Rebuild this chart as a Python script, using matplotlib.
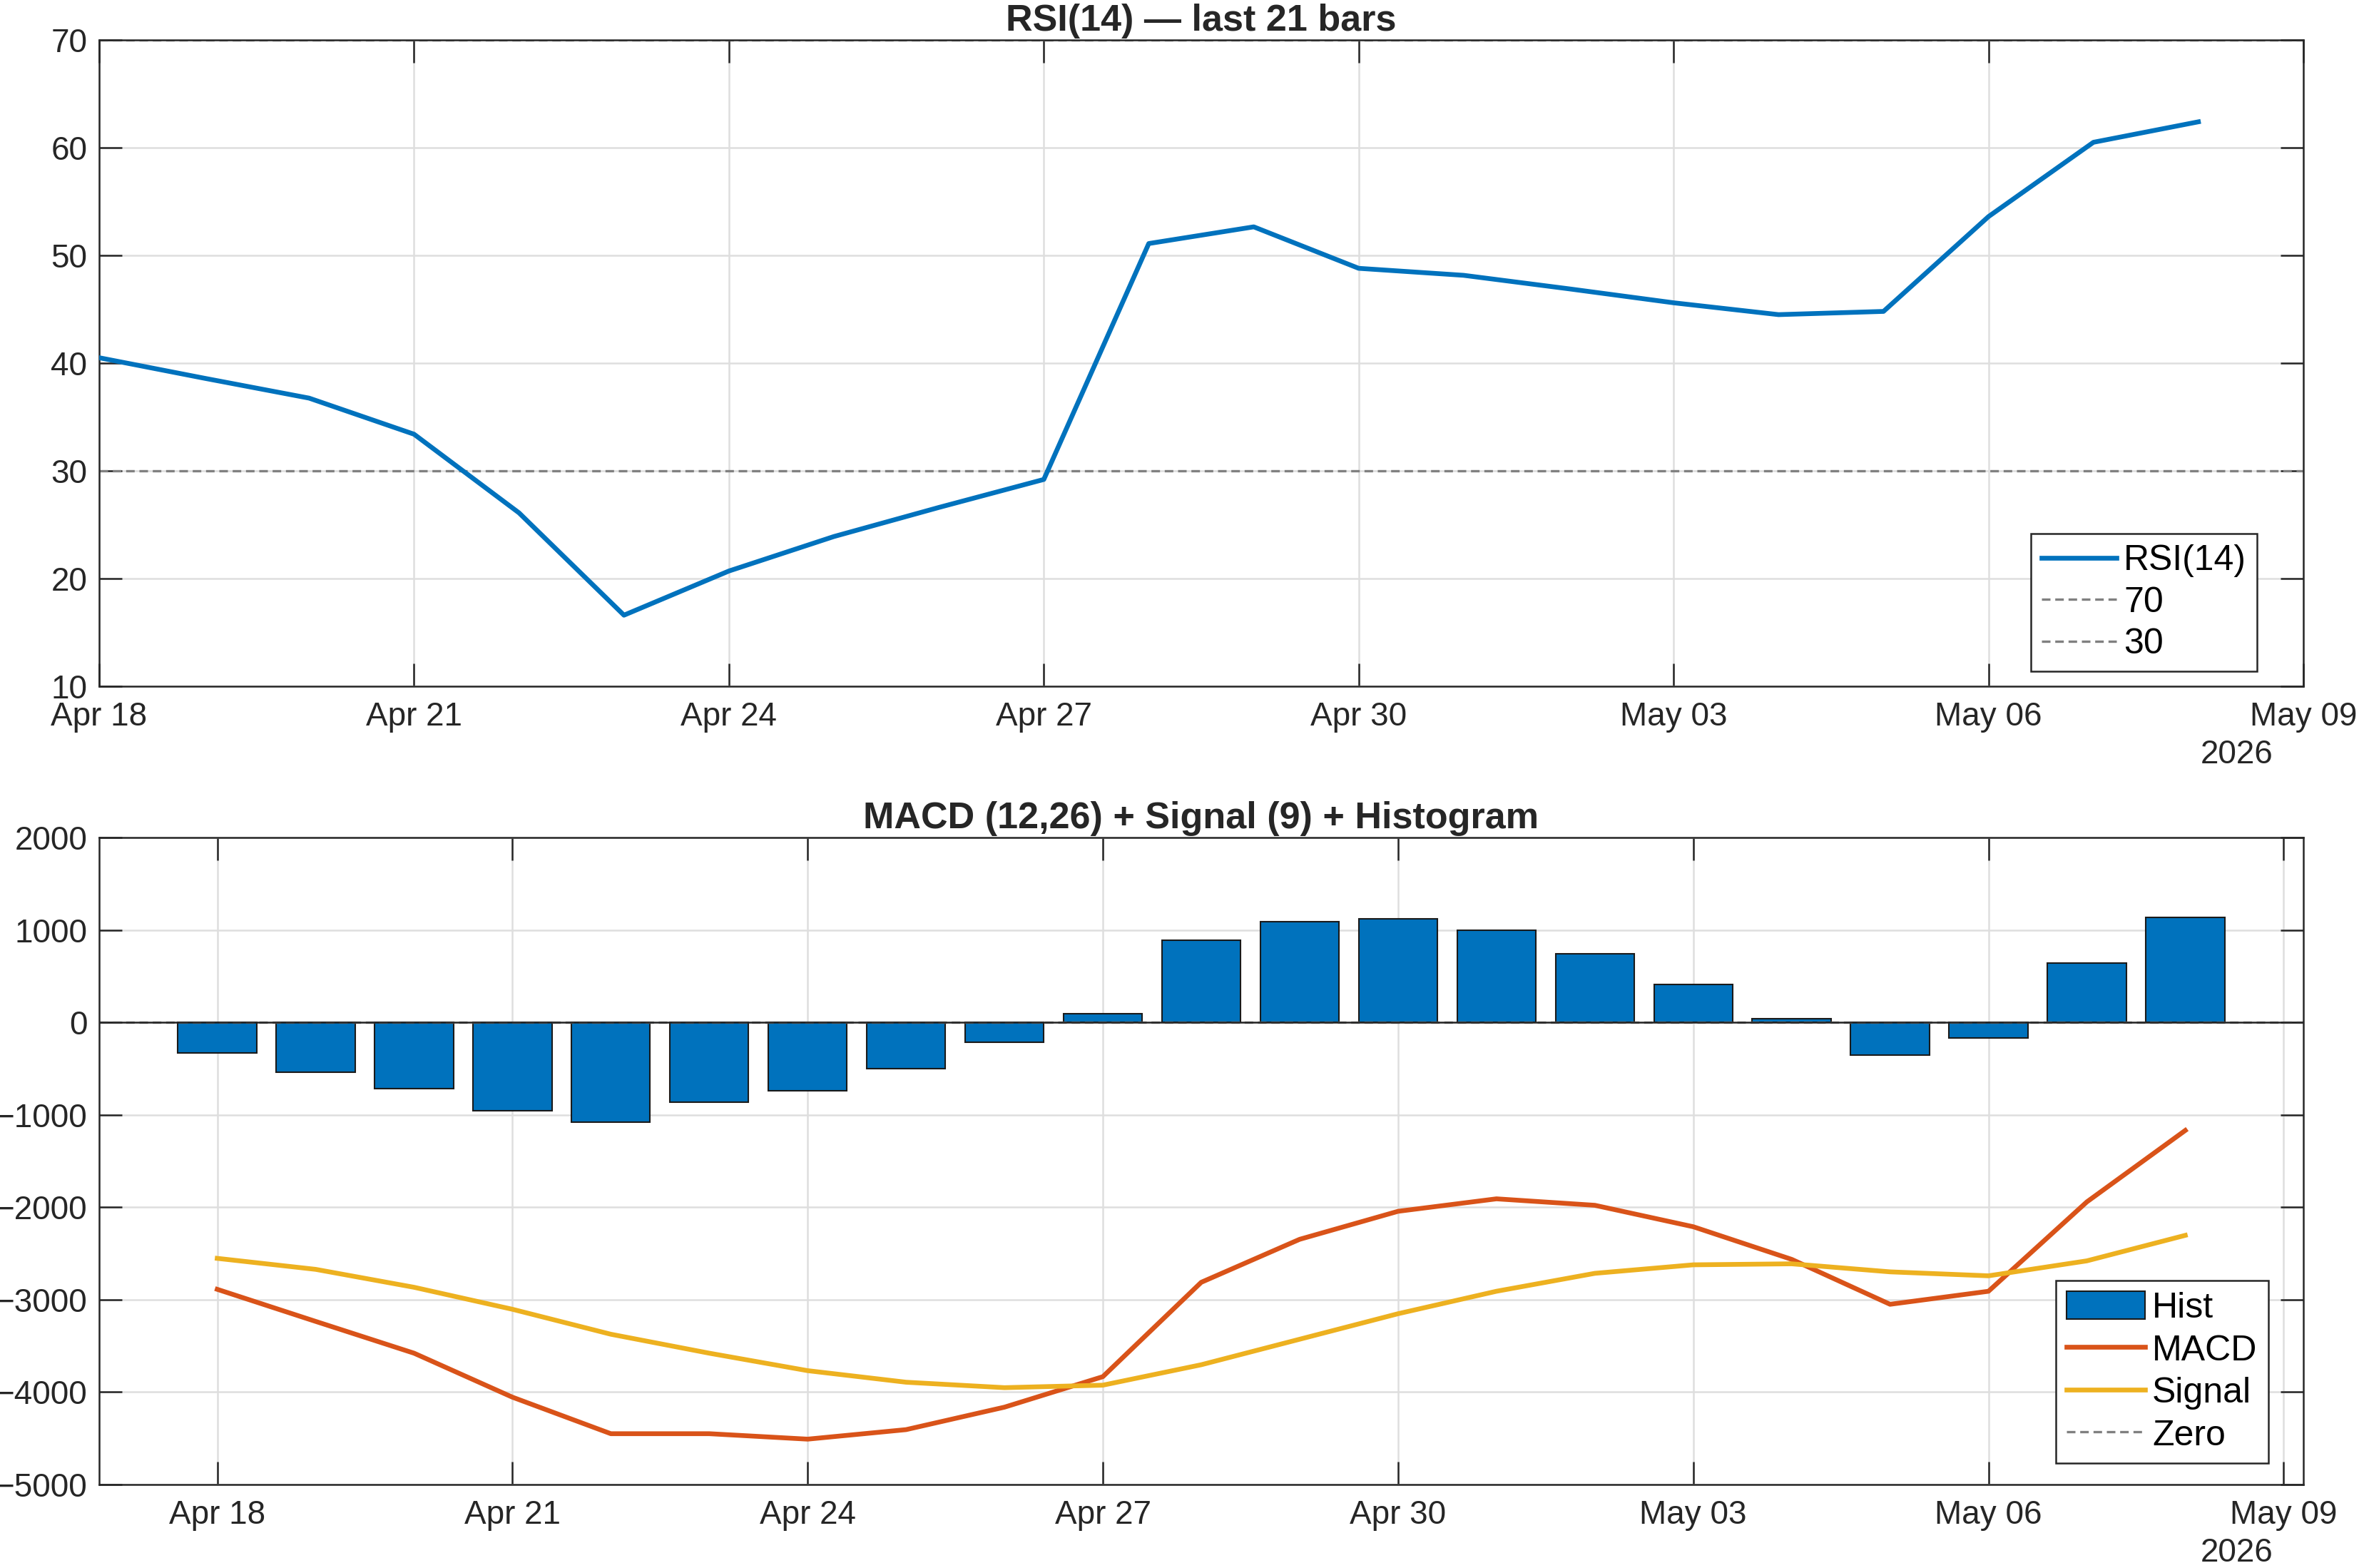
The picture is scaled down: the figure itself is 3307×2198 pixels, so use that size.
import datetime as dt
import matplotlib
matplotlib.use("Agg")
import matplotlib.pyplot as plt
import matplotlib.dates as mdates

plt.rcParams['font.family'] = ['Liberation Sans', 'DejaVu Sans']

# ---- data ----
start = dt.datetime(2026, 4, 18)
dates = [start + dt.timedelta(days=i) for i in range(21)]

rsi = [40.5, 38.6, 36.75, 33.4, 26.1, 16.6, 20.7, 23.9, 26.6, 29.2, 51.1,
       52.65, 48.8, 48.15, 46.9, 45.6, 44.5, 44.8, 53.6, 60.5, 62.4]

macd = [-2888, -3235, -3579, -4055, -4450, -4450, -4509, -4406, -4163, -3833, -2812,
        -2347, -2044, -1909, -1979, -2211, -2564, -3050, -2909, -1942, -1169]
signal = [-2553, -2672, -2866, -3104, -3374, -3579, -3768, -3893, -3952, -3925, -3704,
          -3428, -3152, -2909, -2715, -2623, -2612, -2699, -2742, -2580, -2304]
hist = [-331, -537, -715, -958, -1077, -861, -736, -504, -217, 96, 890,
        1090, 1117, 998, 744, 409, 42, -353, -169, 642, 1133]

rsi_levels = [70, 30]

# colours (MATLAB defaults)
blue = '#0072BD'
orange = '#D95319'
yellow = '#EDB120'
axcol = '#262626'
gridcol = '#dedede'
dash = (0, (3.6, 2.0))

W, H = 3307, 2198
fig = plt.figure(figsize=(W / 300, H / 300), dpi=300)

def make_axes(left, top, right, bottom):
    return fig.add_axes([left / W, 1 - bottom / H, (right - left) / W, (bottom - top) / H])

def style(ax):
    ax.set_axisbelow(True)
    ax.grid(True, color=gridcol, lw=0.6)
    for s in ax.spines.values():
        s.set_color(axcol)
        s.set_linewidth(0.6)
    ax.tick_params(direction='in', length=7.7, width=0.6, colors=axcol,
                   labelsize=11, top=True, right=True)
    ax.tick_params(axis='x', pad=5)
    ax.tick_params(axis='y', pad=4)
    ax.xaxis.set_major_locator(mdates.DayLocator(bymonthday=[3, 6, 9, 18, 21, 24, 27, 30]))
    ax.xaxis.set_major_formatter(mdates.DateFormatter('%b %d'))

legend_kw = dict(loc='lower right', fontsize=12, fancybox=False, edgecolor=axcol,
                 framealpha=1, borderaxespad=0, handletextpad=0.2,
                 labelspacing=0.25, borderpad=0.3)

# ---- RSI ----
ax1 = make_axes(139, 56, 3229, 962)
style(ax1)
ax1.plot(dates, rsi, color=blue, lw=1.6, label='RSI(14)', zorder=3)
for lv in rsi_levels:
    ax1.axhline(lv, color='#808080', lw=0.8, ls=dash, label=str(lv), zorder=2)
ax1.set_xlim(dt.datetime(2026, 4, 18), dt.datetime(2026, 5, 9))
ax1.set_ylim(10, 70)
ax1.set_yticks(range(10, 71, 10))
ax1.set_title('RSI(14) \u2014 last 21 bars', fontsize=12.5, fontweight='bold', color=axcol, pad=3)
leg1 = ax1.legend(bbox_to_anchor=(0.979, 0.023), handlelength=2.1, **legend_kw)
leg1.get_frame().set_linewidth(0.6)
ax1.text(0.9864, -0.082, '2026', transform=ax1.transAxes, ha='right', va='top',
         fontsize=11, color=axcol)

# ---- MACD ----
ax2 = make_axes(139, 1174, 3229, 2081)
style(ax2)
bars = ax2.bar(dates, hist, width=0.8, color=blue, edgecolor='#1a1a1a', linewidth=0.5,
               label='Hist', zorder=2)
l_macd, = ax2.plot(dates, macd, color=orange, lw=1.6, label='MACD', zorder=3)
l_sig, = ax2.plot(dates, signal, color=yellow, lw=1.6, label='Signal', zorder=3)
l_zero = ax2.axhline(0, color='#808080', lw=0.8, ls=dash, label='Zero', zorder=2)
ax2.axhline(0, color=axcol, lw=0.6, zorder=2.5)
ax2.set_xlim(dates[0] - dt.timedelta(days=1.2), dates[-1] + dt.timedelta(days=1.2))
ax2.set_ylim(-5000, 2000)
ax2.set_yticks(range(-5000, 2001, 1000))
ax2.set_title('MACD (12,26) + Signal (9) + Histogram', fontsize=12.5, fontweight='bold',
              color=axcol, pad=3)
leg2 = ax2.legend([bars, l_macd, l_sig, l_zero], ['Hist', 'MACD', 'Signal', 'Zero'],
                  bbox_to_anchor=(0.984, 0.033), handlelength=2.2, handleheight=0.85,
                  **legend_kw)
leg2.get_frame().set_linewidth(0.6)
ax2.text(0.9864, -0.082, '2026', transform=ax2.transAxes, ha='right', va='top',
         fontsize=11, color=axcol)

fig.savefig('out.png', dpi=300)
